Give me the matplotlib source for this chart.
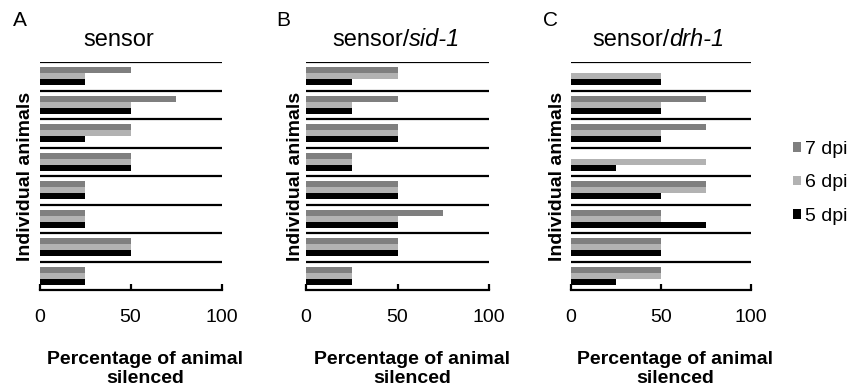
import matplotlib
matplotlib.use('Agg')
import matplotlib.pyplot as plt
import numpy as np

plt.rcParams['font.family'] = ['Liberation Sans', 'DejaVu Sans']

# percentage of animal silenced, 8 individual animals per panel (top to bottom)
panels = ['A', 'B', 'C']
strains = ['sensor', 'sensor/', 'sensor/']
strains_it = ['', 'sid-1', 'drh-1']
days = ['7 dpi', '6 dpi', '5 dpi']
colors = ['#7f7f7f', '#b2b2b2', '#000000']

sensor_7 = [50, 75, 50, 50, 25, 25, 50, 25]
sensor_6 = [25, 50, 50, 50, 25, 25, 50, 25]
sensor_5 = [25, 50, 25, 50, 25, 25, 50, 25]

sid1_7 = [50, 50, 50, 25, 50, 75, 50, 25]
sid1_6 = [50, 25, 50, 25, 50, 50, 50, 25]
sid1_5 = [25, 25, 50, 25, 50, 50, 50, 25]

drh1_7 = [0, 75, 75, 0, 75, 50, 50, 50]
drh1_6 = [50, 50, 50, 75, 75, 50, 50, 50]
drh1_5 = [50, 50, 50, 25, 50, 75, 50, 25]

data = [
    [sensor_7, sensor_6, sensor_5],
    [sid1_7, sid1_6, sid1_5],
    [drh1_7, drh1_6, drh1_5],
]

W, H = 848, 390
fig = plt.figure(figsize=(W / 100, H / 100), dpi=100)

# axes boxes in pixels: left, right
boxes = [(39.5, 221.5), (306, 489), (571, 751)]
top_px, bot_px = 62, 290
title_x = [83, 332, 592]
ylab_x = [26, 295, 557]
letter_x = [20, 283, 551]

bar_h = 0.215
offsets = [0.29, 0.50, 0.71]

handles = []
for k in range(3):
    l, r = boxes[k]
    ax = fig.add_axes([l / W, 1 - bot_px / H, (r - l) / W, (bot_px - top_px) / H])
    n = len(data[k][0])
    y0 = np.arange(n)
    for j in range(3):
        b = ax.barh(y0 + offsets[j], data[k][j], height=bar_h, color=colors[j],
                    label=days[j], linewidth=0)
        if k == 0:
            handles.append(b)
    ax.hlines(np.arange(n), 0, 100, color='black', lw=1.6)
    ax.set_xlim(0, 100)
    ax.set_ylim(n, 0)
    for s in ['left', 'top', 'right']:
        ax.spines[s].set_visible(False)
    ax.spines['bottom'].set_linewidth(1.6)
    ax.set_yticks([])
    ax.set_xticks([0, 50, 100])
    ax.tick_params(axis='x', direction='in', length=4, width=1.6, labelsize=14, pad=14)

    # title with italic gene name
    ty = (bot_px - 40) / (bot_px - top_px)
    tx = (title_x[k] - l) / (r - l)
    t1 = ax.text(tx, ty, strains[k], transform=ax.transAxes, ha='left', va='center',
                 fontsize=17)
    if strains_it[k]:
        ax.annotate(strains_it[k], xy=(1, 0), xycoords=t1, ha='left', va='bottom',
                    fontsize=17, style='italic')

    ax.text((ylab_x[k] - l) / (r - l), 0.5, 'Individual animals', transform=ax.transAxes,
            rotation=90, ha='center', va='center', fontsize=14, fontweight='bold')
    ax.text((145 - 39.5) / 182, (bot_px - 369) / (bot_px - top_px),
            'Percentage of animal\nsilenced', transform=ax.transAxes, ha='center',
            va='center', fontsize=14, fontweight='bold', linespacing=1.1)
    fig.text(letter_x[k] / W, 1 - 20 / H, panels[k], ha='center', va='center', fontsize=15)

fig.legend(handles=handles, labels=days, loc='center left', frameon=False,
           bbox_to_anchor=(783 / W, 1 - 183 / H), fontsize=14, handlelength=0.4,
           handleheight=0.4, handletextpad=0.25, labelspacing=0.85, borderpad=0)

fig.savefig('out.png', dpi=100)
